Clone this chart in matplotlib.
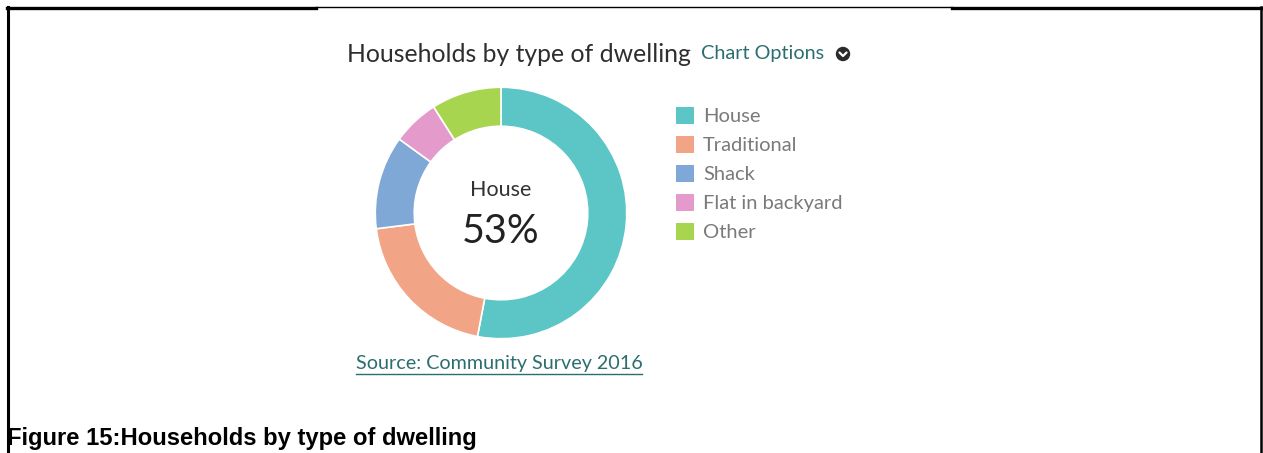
import matplotlib.pyplot as plt
from matplotlib.patches import Patch, Circle

W, H = 1263, 453

categories = ['House', 'Traditional', 'Shack', 'Flat in backyard', 'Other']
shares = [53, 20, 12, 6, 9]
colors = ['#5cc5c5', '#f2a487', '#80a8d6', '#e49bcb', '#a8d550']

title = 'Households by type of dwelling'
source = 'Source: Community Survey 2016'
caption = 'Figure 15:Households by type of dwelling'


def fx(x):
    return x / W


def fy(y):
    return 1 - y / H


fig = plt.figure(figsize=(W / 100, H / 100), dpi=100)
fig.patch.set_facecolor('white')

# frame lines, drawn in pixel coordinates
frame = fig.add_axes([0, 0, 1, 1])
frame.set_xlim(0, W)
frame.set_ylim(H, 0)
frame.axis('off')
frame.plot([8, 8], [7, H], color='black', lw=2.2)
frame.plot([1261, 1261], [7, H], color='black', lw=1.8)
frame.plot([7, 316], [7.5, 7.5], color='black', lw=2.4)
frame.plot([316, 952], [7, 7], color='black', lw=1.0)
frame.plot([952, 1262], [7.5, 7.5], color='black', lw=2.4)

# donut
cx, cy, r = 501, 213, 127
ax = fig.add_axes([fx(cx - r), fy(cy + r), 2 * r / W, 2 * r / H])
wedges, _ = ax.pie(shares, colors=colors, startangle=90, counterclock=False,
                   radius=1, wedgeprops=dict(width=0.31, edgecolor='white', linewidth=1.2))
ax.set_xlim(-1.01, 1.01)
ax.set_ylim(-1.01, 1.01)
ax.axis('off')

ax.text(0, 0.18, categories[0], ha='center', va='center', fontsize=15.5,
        family='Lato', color='#333333')
ax.text(0, -0.15, f'{shares[0]}%', ha='center', va='center', fontsize=28.5,
        family='Lato', color='#222222')

# title and options link
fig.text(fx(347), fy(55), title, ha='left', va='center', fontsize=17.8,
         family='Lato', color='#2e2e2e')
fig.text(fx(701), fy(54), 'Chart Options', ha='left', va='center', fontsize=14.3,
         family='Lato', color='#2c6e70')
frame.add_patch(Circle((843, 54), 6.5, color='#2b2b2b'))
frame.plot([839.5, 843, 846.5], [52.5, 56, 52.5], color='white', lw=1.6,
           solid_capstyle='round')

# legend
handles = [Patch(facecolor=c, edgecolor='none') for c in colors]
leg = fig.legend(handles, categories, loc='upper left',
                 bbox_to_anchor=(fx(676), fy(107)), frameon=False,
                 prop={'family': 'Lato', 'size': 14.5}, labelcolor='#7a7a7a',
                 handlelength=0.9, handleheight=0.9, handletextpad=0.45,
                 labelspacing=0.53, borderpad=0, borderaxespad=0)

# source link
fig.text(fx(499), fy(364), source, ha='center', va='center', fontsize=14.2,
         family='Lato', color='#2c6e70')
frame.plot([356, 642], [374, 374], color='#2c6e70', lw=1.0)

# figure caption
fig.text(fx(7), fy(439), caption, ha='left', va='center', fontsize=17.1,
         family='Liberation Sans', weight='bold', color='black')

fig.savefig('out.png', dpi=100, facecolor='white')
